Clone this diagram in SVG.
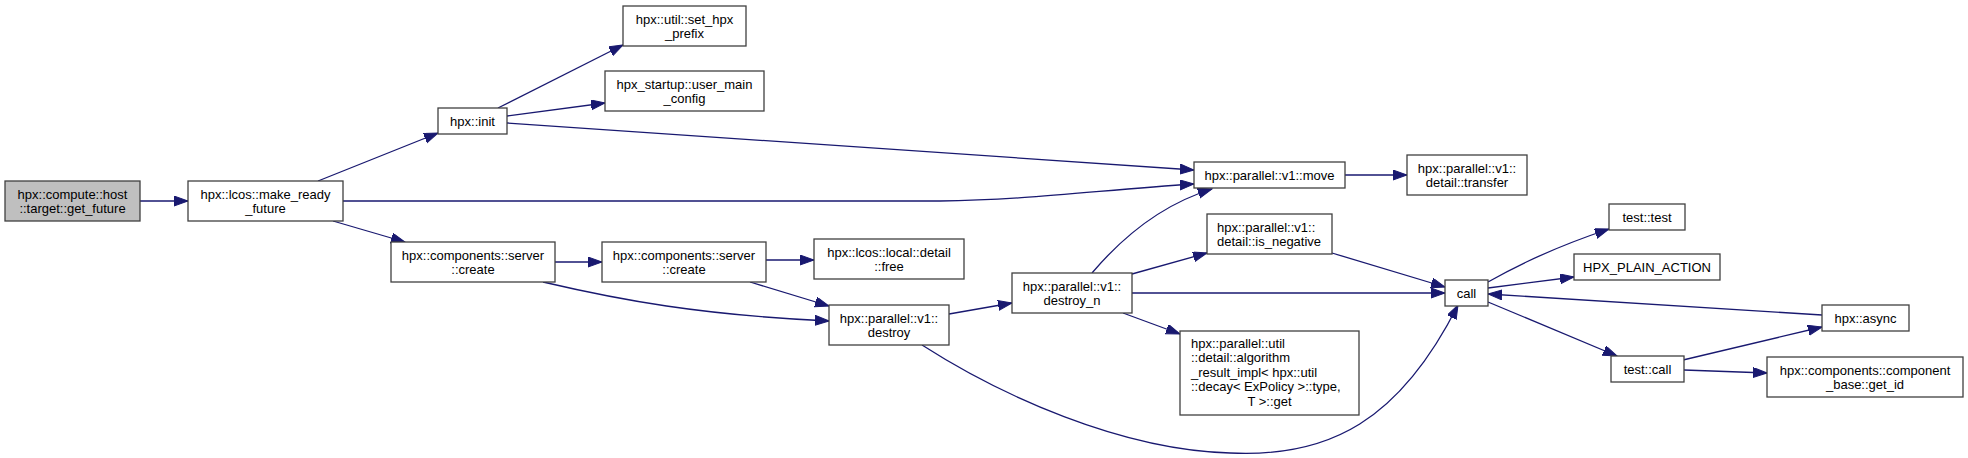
<svg xmlns="http://www.w3.org/2000/svg" width="1968" height="458" viewBox="0 0 1968 458">
<style>
.n rect{fill:#ffffff;stroke:#404040;stroke-width:1.3}
.n.root rect{fill:#bfbfbf}
.n text{font-family:"Liberation Sans",Arial,sans-serif;font-size:13px;fill:#000;text-anchor:middle}
.n text.l{text-anchor:start}
#edges path{fill:none;stroke:#191970;stroke-width:1.3;marker-end:url(#ah)}
</style>
<defs>
<marker id="ah" markerUnits="userSpaceOnUse" markerWidth="15" markerHeight="11" refX="14" refY="5" orient="auto">
<path d="M0,0 L14,5 L0,10 z" fill="#191970" stroke="#191970" stroke-width="1"/>
</marker>
</defs>
<rect width="1968" height="458" fill="#ffffff"/>
<g id="edges">
<path d="M140,201 L188,201"/>
<path d="M318,181 L438,133"/>
<path d="M343,201 L940,201 C1030,200 1100,190 1194,184"/>
<path d="M333,221 L405,242"/>
<path d="M498,108 L623,45"/>
<path d="M507,116 L605,103"/>
<path d="M507,123 L1194,170"/>
<path d="M1345,175 L1407,175"/>
<path d="M555,262 L602,262"/>
<path d="M543,282 C620,300 700,315 829,321"/>
<path d="M766,260 L814,260"/>
<path d="M750,282 L829,306"/>
<path d="M949,314 L1012,303"/>
<path d="M922,345 C1000,395 1120,450 1230,453 C1330,458 1400,420 1458,305"/>
<path d="M1092,273 C1120,240 1160,205 1212,189"/>
<path d="M1132,274 L1207,253"/>
<path d="M1132,293 L1445,293"/>
<path d="M1123,313 L1180,334"/>
<path d="M1332,253 L1445,287"/>
<path d="M1488,282 C1530,258 1570,242 1609,229"/>
<path d="M1488,288 L1574,277"/>
<path d="M1822,315 L1488,294"/>
<path d="M1488,302 L1617,356"/>
<path d="M1683,360 L1822,327"/>
<path d="M1684,370 L1767,373"/>
</g>
<g id="n0" class="n root"><rect x="5" y="181" width="135" height="40"/><text x="72.5" y="198.5">hpx::compute::host</text><text x="72.5" y="212.5">::target::get_future</text></g>
<g id="n1" class="n"><rect x="188" y="181" width="155" height="40"/><text x="265.5" y="198.5">hpx::lcos::make_ready</text><text x="265.5" y="212.5">_future</text></g>
<g id="n2" class="n"><rect x="438" y="108" width="69" height="26"/><text x="472.5" y="125.5">hpx::init</text></g>
<g id="n3" class="n"><rect x="623" y="6" width="123" height="40"/><text x="684.5" y="23.5">hpx::util::set_hpx</text><text x="684.5" y="37.5">_prefix</text></g>
<g id="n4" class="n"><rect x="605" y="71" width="159" height="40"/><text x="684.5" y="88.5">hpx_startup::user_main</text><text x="684.5" y="102.5">_config</text></g>
<g id="n5" class="n"><rect x="1194" y="162" width="151" height="26"/><text x="1269.5" y="179.5">hpx::parallel::v1::move</text></g>
<g id="n6" class="n"><rect x="1407" y="155" width="120" height="40"/><text x="1467" y="172.5">hpx::parallel::v1::</text><text x="1467" y="186.5">detail::transfer</text></g>
<g id="n7" class="n"><rect x="391" y="242" width="164" height="40"/><text x="473" y="259.5">hpx::components::server</text><text x="473" y="273.5">::create</text></g>
<g id="n8" class="n"><rect x="602" y="242" width="164" height="40"/><text x="684" y="259.5">hpx::components::server</text><text x="684" y="273.5">::create</text></g>
<g id="n9" class="n"><rect x="814" y="239" width="150" height="40"/><text x="889" y="256.5">hpx::lcos::local::detail</text><text x="889" y="270.5">::free</text></g>
<g id="n10" class="n"><rect x="829" y="305" width="120" height="40"/><text x="889" y="322.5">hpx::parallel::v1::</text><text x="889" y="336.5">destroy</text></g>
<g id="n11" class="n"><rect x="1012" y="273" width="120" height="40"/><text x="1072" y="290.5">hpx::parallel::v1::</text><text x="1072" y="304.5">destroy_n</text></g>
<g id="n12" class="n"><rect x="1207" y="214" width="125" height="40"/><text class="l" x="1217" y="231.5">hpx::parallel::v1::</text><text class="l" x="1217" y="245.5">detail::is_negative</text></g>
<g id="n13" class="n"><rect x="1180" y="331" width="179" height="84"/><text class="l" x="1191" y="347.5">hpx::parallel::util</text><text class="l" x="1191" y="362">::detail::algorithm</text><text class="l" x="1191" y="376.5">_result_impl&lt; hpx::util</text><text class="l" x="1191" y="391">::decay&lt; ExPolicy &gt;::type,</text><text x="1269.5" y="405.5">T &gt;::get</text></g>
<g id="n14" class="n"><rect x="1445" y="280" width="43" height="26"/><text x="1466.5" y="297.5">call</text></g>
<g id="n15" class="n"><rect x="1609" y="204" width="76" height="26"/><text x="1647" y="221.5">test::test</text></g>
<g id="n16" class="n"><rect x="1574" y="254" width="146" height="26"/><text x="1647" y="271.5">HPX_PLAIN_ACTION</text></g>
<g id="n17" class="n"><rect x="1822" y="305" width="87" height="26"/><text x="1865.5" y="322.5">hpx::async</text></g>
<g id="n18" class="n"><rect x="1611" y="356" width="73" height="26"/><text x="1647.5" y="373.5">test::call</text></g>
<g id="n19" class="n"><rect x="1767" y="357" width="196" height="40"/><text x="1865" y="374.5">hpx::components::component</text><text x="1865" y="388.5">_base::get_id</text></g>
</svg>
